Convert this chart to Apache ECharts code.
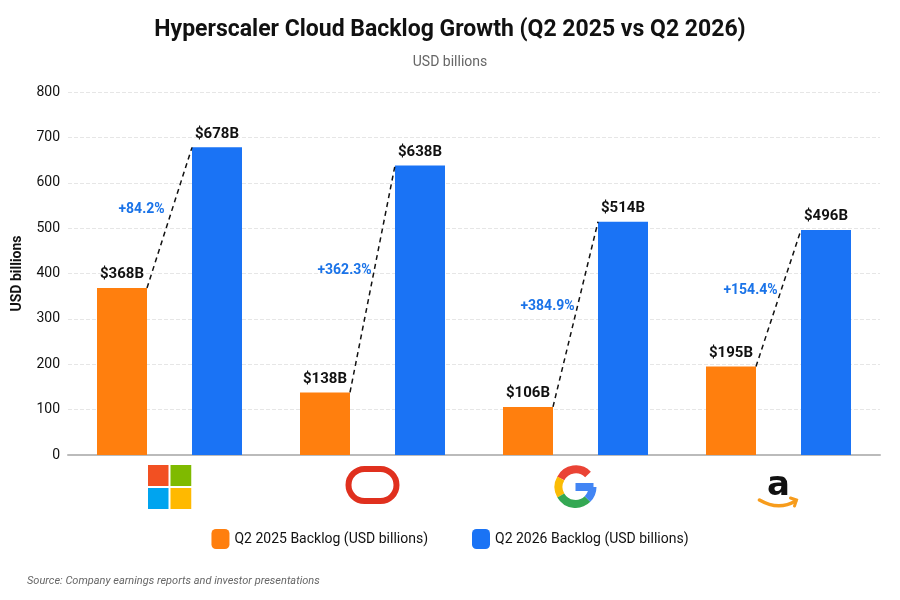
<!DOCTYPE html>
<html><head><meta charset="utf-8">
<script src="https://cdn.jsdelivr.net/npm/echarts@6/dist/echarts.min.js"></script>
<style>html,body{margin:0;padding:0;background:#fff}#c{width:900px;height:600px}</style>
</head><body><div id="c"></div>
<script>
const categories = ['Microsoft', 'Oracle', 'Google', 'Amazon'];
const backlog2025 = [368, 138, 106, 195];
const backlog2026 = [678, 638, 514, 496];
const growthLabels = ['+84.2%', '+362.3%', '+384.9%', '+154.4%'];
const yTicks = [0, 100, 200, 300, 400, 500, 600, 700, 800];

function svg(s){return 'data:image/svg+xml;charset=utf-8,' + encodeURIComponent(s);}
const logos = {
  Microsoft: svg('<svg xmlns="http://www.w3.org/2000/svg" width="44" height="44"><rect x="0" y="0" width="21" height="21" fill="#F25022"/><rect x="23" y="0" width="21" height="21" fill="#7FBA00"/><rect x="0" y="23" width="21" height="21" fill="#00A4EF"/><rect x="23" y="23" width="21" height="21" fill="#FFB900"/></svg>'),
  Oracle: svg('<svg xmlns="http://www.w3.org/2000/svg" width="56" height="40"><rect x="4" y="4" width="48" height="32" rx="16" ry="16" fill="none" stroke="#E0301E" stroke-width="6"/></svg>'),
  Google: svg('<svg xmlns="http://www.w3.org/2000/svg" width="44" height="44" viewBox="0 0 44 44"><g fill="none" stroke-width="8"><path d="M34.5 9.5 A17 17 0 0 0 7.3 13.5" stroke="#EA4335"/><path d="M7.3 13.5 A17 17 0 0 0 7.3 30.5" stroke="#FBBC05"/><path d="M7.3 30.5 A17 17 0 0 0 34 34" stroke="#34A853"/><path d="M34 34 A17 17 0 0 0 39 22" stroke="#4285F4"/></g><rect x="22" y="18" width="18" height="8" fill="#4285F4"/></svg>'),
  Amazon: svg('<svg xmlns="http://www.w3.org/2000/svg" width="48" height="48"><text x="24" y="30" text-anchor="middle" font-family="DejaVu Sans, sans-serif" font-weight="bold" font-size="34" fill="#111">a</text><path d="M5 35 Q24 46 41 36" fill="none" stroke="#F79C1C" stroke-width="3.5" stroke-linecap="round"/><path d="M36 33 L42 35 L40 41" fill="none" stroke="#F79C1C" stroke-width="3" stroke-linecap="round"/></svg>')
};
const rich = {};
categories.forEach(c => { rich[c] = {width: c==='Oracle'?56:(c==='Amazon'?48:44), height: c==='Oracle'?40:(c==='Amazon'?48:44), backgroundColor: {image: logos[c]}}; });

const chart = echarts.init(document.getElementById('c'));
const BW = 50, GAP = 45;
chart.setOption({
  animation: false,
  title: [
    {text: 'Hyperscaler Cloud Backlog Growth (Q2 2025 vs Q2 2026)', left: 'center', top: 14,
     textStyle: {fontFamily: 'Roboto', fontSize: 23, fontWeight: 'bold', color: '#111'}},
    {text: 'USD billions', left: 'center', top: 50, textStyle: {fontFamily: 'Roboto', fontSize: 14, fontWeight: 'normal', color: '#666'}},
    {text: 'Source: Company earnings reports and investor presentations', left: 22, top: 571,
     textStyle: {fontFamily: 'Roboto', fontSize: 11, fontStyle: 'italic', fontWeight: 'normal', color: '#666'}}
  ],
  grid: {left: 68, right: 20, top: 92, bottom: 145},
  legend: {bottom: 46, left: 'center', itemWidth: 18, itemHeight: 20, itemGap: 44,
    textStyle: {fontFamily: 'Roboto', fontSize: 14, color: '#111'},
    data: ['Q2 2025 Backlog (USD billions)', 'Q2 2026 Backlog (USD billions)']},
  xAxis: {type: 'category', data: categories,
    axisLine: {lineStyle: {color: '#bbb', width: 2}}, axisTick: {show: false},
    axisLabel: {margin: 10, formatter: v => '{' + v + '|}', rich: rich}},
  yAxis: {type: 'value', min: 0, max: 800, interval: 100, name: 'USD billions', nameLocation: 'middle', nameGap: 44,
    nameTextStyle: {fontFamily: 'Roboto', fontSize: 14, fontWeight: 'bold', color: '#111'},
    axisLabel: {fontFamily: 'Roboto', fontSize: 14, color: '#111', formatter: v => yTicks.includes(v) ? String(v) : ''},
    splitLine: {lineStyle: {color: '#e6e6e6', type: 'dashed'}}},
  series: [
    {name: 'Q2 2025 Backlog (USD billions)', type: 'bar', data: backlog2025, barWidth: BW, barGap: '90%',
     itemStyle: {color: '#FF7F0E'},
     label: {show: true, position: 'top', distance: 6, formatter: p => '$' + p.value + 'B', fontFamily: 'Roboto', fontSize: 15, fontWeight: 'bold', color: '#111'}},
    {name: 'Q2 2026 Backlog (USD billions)', type: 'bar', data: backlog2026, barWidth: BW,
     itemStyle: {color: '#1A73F5'},
     label: {show: true, position: 'top', distance: 6, formatter: p => '$' + p.value + 'B', fontFamily: 'Roboto', fontSize: 15, fontWeight: 'bold', color: '#111'}},
    {type: 'custom', silent: true, z: 5,
     data: categories.map((c, i) => [i, backlog2025[i], backlog2026[i]]),
     renderItem: (params, api) => {
       const i = api.value(0);
       const p1 = api.coord([i, api.value(1)]);
       const p2 = api.coord([i, api.value(2)]);
       const x1 = p1[0] - GAP / 2, x2 = p1[0] + GAP / 2;
       const my = (p1[1] + p2[1]) / 2;
       return {type: 'group', children: [
         {type: 'line', shape: {x1: x1, y1: p1[1], x2: x2, y2: p2[1]}, style: {stroke: '#111', lineWidth: 1.5, lineDash: [5, 4]}},
         {type: 'text', style: {text: growthLabels[i], x: p1[0] - 28, y: my - 8, align: 'center', verticalAlign: 'middle',
           fill: '#1A73E8', font: 'bold 14px Roboto'}}
       ]};
     }}
  ]
});
</script></body></html>
